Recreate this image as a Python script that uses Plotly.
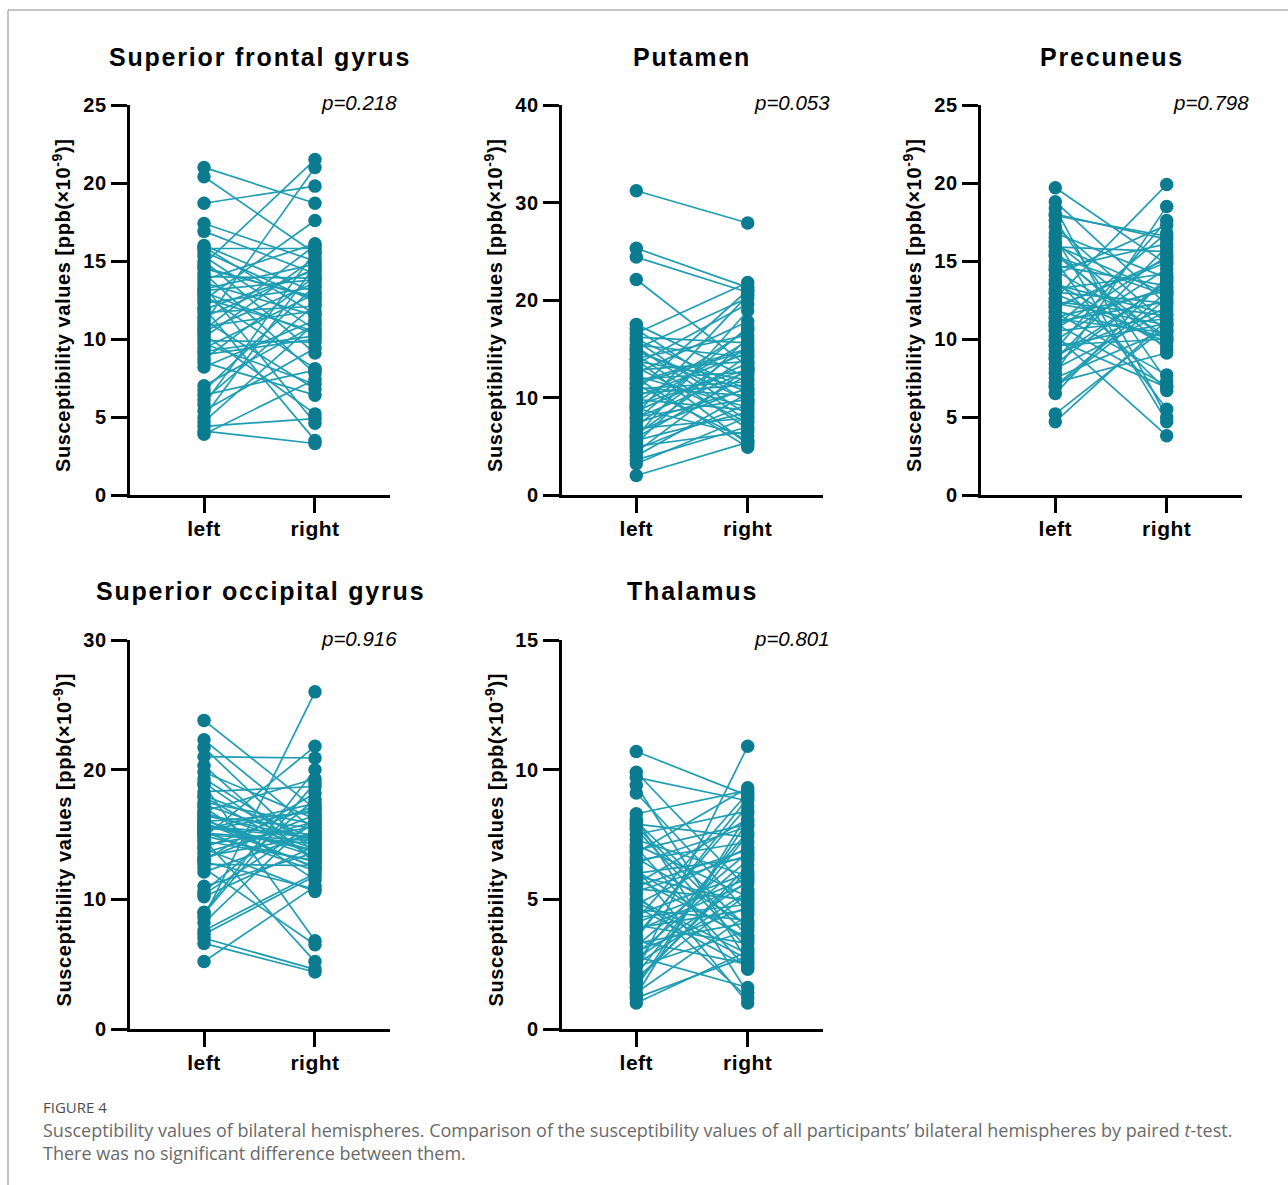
import plotly.graph_objects as go

W, H = 1288, 1185

# ---------------- data ----------------
titles = ["Superior frontal gyrus", "Putamen", "Precuneus", "Superior occipital gyrus", "Thalamus"]
p_values = ["p=0.218", "p=0.053", "p=0.798", "p=0.916", "p=0.801"]
y_max = [25, 40, 25, 30, 15]
y_dtick = [5, 10, 5, 10, 5]
categories = ["left", "right"]

sfg_left = [21.0, 20.4, 18.7, 17.4, 16.9, 16.0, 15.8, 15.6, 15.3, 15.0, 14.8, 14.5, 14.2, 14.0, 13.8, 13.6,
            13.4, 13.2, 13.0, 12.8, 12.5, 12.3, 12.0, 11.7, 11.4, 11.2, 11.0, 10.8, 10.5, 10.3, 10.1, 9.9,
            9.7, 9.4, 9.0, 8.7, 8.5, 8.2, 7.0, 6.7, 6.4, 6.1, 5.8, 5.4, 5.0, 4.7, 4.4, 4.1, 3.9, 13.1,
            12.6, 14.6, 10.6, 15.9, 11.9, 9.2]
sfg_right = [18.7, 15.5, 19.8, 15.0, 14.2, 13.0, 15.8, 12.4, 10.6, 9.1, 21.5, 12.7, 7.8, 13.9, 16.1, 11.5,
             4.6, 14.8, 10.3, 8.1, 17.6, 13.3, 3.5, 12.1, 14.5, 6.8, 21.0, 11.8, 13.6, 5.2, 15.2, 9.8,
             7.1, 12.9, 10.0, 14.0, 6.4, 11.2, 10.9, 13.4, 8.0, 12.2, 15.6, 9.4, 14.7, 11.0, 4.9, 3.3,
             7.4, 13.8, 10.5, 12.6, 16.0, 11.6, 14.4, 10.2]

put_left = [31.2, 25.3, 24.4, 22.1, 17.5, 17.0, 16.6, 16.2, 15.8, 15.4, 15.0, 14.7, 14.4, 14.0, 13.7, 13.4,
            13.1, 12.8, 12.5, 12.2, 11.9, 11.6, 11.3, 11.0, 10.7, 10.4, 10.1, 9.8, 9.5, 9.2, 8.9, 8.6,
            8.3, 8.0, 7.7, 7.4, 7.1, 6.8, 6.5, 6.2, 5.9, 5.6, 5.3, 5.0, 4.7, 4.4, 4.0, 3.6, 3.2, 2.0,
            12.0, 10.9, 9.0, 13.9, 15.2, 7.9, 11.4, 6.0, 14.9, 16.0]
put_right = [27.9, 21.3, 20.8, 13.2, 12.0, 9.5, 21.8, 15.6, 8.2, 14.1, 20.2, 10.6, 6.8, 16.4, 11.8, 19.6,
             7.4, 13.7, 17.8, 9.0, 12.6, 15.0, 5.6, 10.2, 21.0, 11.3, 14.6, 8.7, 16.9, 12.9, 6.1, 13.5,
             20.5, 9.8, 17.2, 10.9, 15.3, 7.9, 11.0, 14.3, 12.3, 8.5, 16.1, 6.5, 9.3, 13.0, 10.4, 7.0,
             8.0, 5.4, 4.9, 11.6, 15.8, 5.2, 7.6, 12.7, 14.8, 18.9, 9.7, 10.8]

pre_left = [19.7, 18.8, 18.4, 18.0, 17.6, 17.2, 16.8, 16.5, 16.2, 15.9, 15.6, 15.3, 15.0, 14.7, 14.4, 14.1,
            13.8, 13.5, 13.2, 12.9, 12.6, 12.3, 12.0, 11.7, 11.4, 11.1, 10.8, 10.5, 10.2, 9.9, 9.6, 9.3,
            9.0, 8.7, 8.4, 8.1, 7.8, 7.5, 7.2, 6.9, 6.5, 5.2, 4.7, 11.0, 10.9, 13.6, 14.5, 12.4, 10.6,
            16.0, 11.3, 8.8, 15.4, 12.1, 10.0, 17.9, 13.0, 9.5, 11.8, 7.0]
pre_right = [14.8, 12.2, 5.0, 16.4, 7.3, 11.0, 13.9, 4.7, 10.5, 15.6, 9.3, 12.8, 5.5, 13.4, 10.2, 17.3,
             6.7, 11.6, 14.2, 9.8, 19.9, 10.9, 15.1, 7.7, 13.1, 12.4, 16.8, 11.3, 3.8, 14.5, 10.0, 17.6,
             12.0, 15.9, 13.7, 11.8, 18.5, 10.6, 9.1, 12.6, 14.0, 10.8, 11.2, 7.0, 13.3, 9.5, 16.1, 11.5,
             15.3, 12.9, 10.4, 13.6, 9.9, 14.9, 6.9, 16.6, 12.3, 11.0, 10.1, 13.0]

sog_left = [23.8, 22.3, 21.7, 21.0, 20.3, 19.8, 19.3, 18.8, 18.3, 17.9, 17.5, 17.1, 16.8, 16.5, 16.2, 16.0,
            15.8, 15.6, 15.4, 15.2, 15.0, 14.8, 14.5, 14.2, 13.9, 13.6, 13.3, 13.0, 12.7, 12.4, 12.1, 11.0,
            10.6, 10.2, 9.0, 8.6, 8.2, 7.6, 7.0, 6.6, 5.2, 15.5, 16.1, 15.3, 14.9, 16.4, 15.7, 14.6, 17.3,
            13.1, 15.9, 14.0, 16.7, 12.9, 18.0, 8.9, 10.4, 7.3, 19.0, 15.1]
sog_right = [17.0, 15.3, 13.5, 20.9, 12.8, 16.2, 14.0, 6.8, 18.7, 13.2, 15.8, 11.5, 19.3, 14.6, 12.4, 16.7,
             13.8, 15.0, 17.4, 12.2, 14.3, 21.8, 13.0, 15.6, 10.6, 16.0, 14.9, 18.2, 12.6, 6.5, 15.2, 13.6,
             17.7, 14.1, 20.0, 26.0, 16.4, 12.0, 4.6, 4.4, 11.0, 14.8, 13.3, 16.9, 12.9, 15.5, 13.7, 5.2,
             14.4, 16.5, 12.5, 17.2, 13.9, 10.8, 14.7, 19.0, 15.9, 11.8, 13.1, 14.5]

tha_left = [10.7, 9.9, 9.7, 9.4, 9.1, 8.3, 8.1, 7.9, 7.7, 7.5, 7.3, 7.0, 6.8, 6.6, 6.4, 6.2, 6.0, 5.8, 5.6,
            5.4, 5.0, 4.8, 4.6, 4.4, 4.2, 4.0, 3.8, 3.6, 3.4, 3.2, 3.0, 2.8, 2.6, 2.4, 2.2, 2.0, 1.8, 1.6,
            1.4, 1.2, 1.0, 5.2, 6.5, 4.1, 2.9, 7.8, 3.5, 5.9, 1.9, 4.7, 6.9, 2.5, 8.0, 3.3, 5.5, 1.3, 4.9,
            7.1, 2.1, 6.1, 3.9, 5.3, 2.7, 4.3]
tha_right = [9.0, 5.4, 8.8, 2.6, 4.5, 9.2, 1.4, 7.4, 3.1, 8.4, 5.9, 2.3, 9.3, 4.0, 7.8, 1.0, 6.6, 3.5, 8.1,
             5.0, 2.9, 7.0, 4.2, 6.0, 9.1, 3.3, 5.6, 8.6, 2.5, 6.8, 4.7, 1.6, 7.6, 3.8, 10.9, 5.2, 6.3,
             8.0, 4.4, 2.8, 3.0, 1.2, 7.2, 5.8, 6.5, 3.6, 8.9, 4.9, 6.1, 2.4, 7.9, 5.3, 3.9, 4.1, 6.9,
             8.3, 2.7, 5.1, 7.5, 3.4, 4.6, 6.7, 5.7, 4.8]

lefts = [sfg_left, put_left, pre_left, sog_left, tha_left]
rights = [sfg_right, put_right, pre_right, sog_right, tha_right]

# ---------------- layout geometry (pixels) ----------------
axis_x = [(130, 390), (562, 823), (981, 1242), (130, 390), (562, 823)]
axis_y = [(105, 495), (105, 495), (105, 495), (640, 1029), (640, 1029)]
title_y = [57, 57, 57, 591, 591]


def px(x):
    return x / W


def py(y):
    return 1 - y / H


MARKER = "#0b7c90"
LINE = "#1f9db3"
FONT = "Liberation Sans, Arial, sans-serif"


def spaced(text, ls):
    return f'<span style="letter-spacing:{ls}px">{text}</span>'


fig = go.Figure()
annotations = []
layout = {}

for i in range(5):
    n = i + 1
    xa = "x" if n == 1 else f"x{n}"
    ya = "y" if n == 1 else f"y{n}"
    lx, ly = [], []
    for a, b in zip(lefts[i], rights[i]):
        lx += [1, 2, None]
        ly += [a, b, None]
    fig.add_trace(go.Scatter(x=lx, y=ly, mode="lines", xaxis=xa, yaxis=ya,
                             line=dict(color=LINE, width=1.7), hoverinfo="skip", showlegend=False))
    fig.add_trace(go.Scatter(x=[1] * len(lefts[i]) + [2] * len(rights[i]), y=lefts[i] + rights[i],
                             mode="markers", xaxis=xa, yaxis=ya,
                             marker=dict(color=MARKER, size=13.5, line=dict(width=0)), showlegend=False))

    x0, x1 = axis_x[i]
    y0, y1 = axis_y[i]
    kx = "xaxis" if n == 1 else f"xaxis{n}"
    ky = "yaxis" if n == 1 else f"yaxis{n}"
    yticks = list(range(0, y_max[i] + 1, y_dtick[i]))
    layout[kx] = dict(domain=[px(x0), px(x1)], anchor=ya, range=[0.333, 2.676], automargin=False,
                      tickvals=[1, 2], ticktext=[spaced(c, 0.5) for c in categories],
                      showline=True, linecolor="black",
                      linewidth=3, ticks="outside", ticklen=15, tickwidth=3, tickcolor="black",
                      showgrid=False, zeroline=False, fixedrange=True, ticklabelstandoff=-2,
                      tickfont=dict(family=FONT, size=21, color="black", weight="bold"))
    layout[ky] = dict(domain=[py(y1), py(y0)], anchor=xa, range=[0, y_max[i]], automargin=False,
                      tickvals=yticks, ticktext=[spaced(str(v), 0.8) for v in yticks],
                      showline=True, linecolor="black", linewidth=3, ticks="outside",
                      ticklen=16, tickwidth=3, tickcolor="black", showgrid=False, zeroline=False,
                      fixedrange=True,
                      tickfont=dict(family=FONT, size=20, color="black", weight="bold"))

    cx = (x0 + x1) / 2
    annotations.append(dict(x=px(cx), y=py(title_y[i]), xref="paper", yref="paper",
                            text=spaced(titles[i], 1.8), showarrow=False, xanchor="center",
                            yanchor="middle",
                            font=dict(family=FONT, size=25, color="black", weight="bold")))
    annotations.append(dict(x=px(x1 + 9), y=py(y0 - 2), xref="paper", yref="paper",
                            text=f"<i>{p_values[i]}</i>", showarrow=False, xanchor="right",
                            yanchor="middle", font=dict(family=FONT, size=20.5, color="black")))
    annotations.append(dict(x=px(x0 - 68), y=py((y0 + y1) / 2 + 5), xref="paper", yref="paper",
                            text=spaced("Susceptibility values [ppb(×10<sup>-9</sup>)]", 0.6),
                            showarrow=False,
                            textangle=-90, xanchor="center", yanchor="middle",
                            font=dict(family=FONT, size=20, color="black", weight="bold")))

CAP = "Open Sans, Liberation Sans, sans-serif"
annotations.append(dict(x=px(41), y=py(1107), xref="paper", yref="paper", text="FIGURE 4",
                        showarrow=False, xanchor="left", yanchor="middle",
                        font=dict(family=CAP, size=15, color="#4d4d4d")))
annotations.append(dict(x=px(41), y=py(1130), xref="paper", yref="paper",
                        text="Susceptibility values of bilateral hemispheres. Comparison of the susceptibility values of all participants’ bilateral hemispheres by paired <i>t</i>-test.",
                        showarrow=False, xanchor="left", yanchor="middle",
                        font=dict(family=CAP, size=18, color="#6a6a6a")))
annotations.append(dict(x=px(41), y=py(1153), xref="paper", yref="paper",
                        text="There was no significant difference between them.",
                        showarrow=False, xanchor="left", yanchor="middle",
                        font=dict(family=CAP, size=18, color="#6a6a6a")))

fig.update_layout(
    width=W, height=H, margin=dict(l=0, r=0, t=0, b=0, autoexpand=False),
    paper_bgcolor="white", plot_bgcolor="white",
    annotations=annotations,
    shapes=[dict(type="rect", xref="paper", yref="paper", x0=px(8), x1=1.05, y0=-0.05, y1=py(10),
                 line=dict(color="#8a8a8a", width=1), fillcolor="rgba(0,0,0,0)", layer="below")],
    **layout,
)

fig.write_html(
    "out.html",
    config={"displayModeBar": False, "staticPlot": True},
    post_script=(
        "document.body.style.margin='0';"
        "document.body.style.overflow='hidden';"
        "document.documentElement.style.overflow='hidden';"
        "var gd=document.getElementById('{plot_id}');"
        "gd.style.position='fixed';gd.style.top='0px';gd.style.left='0px';"
    ),
)
